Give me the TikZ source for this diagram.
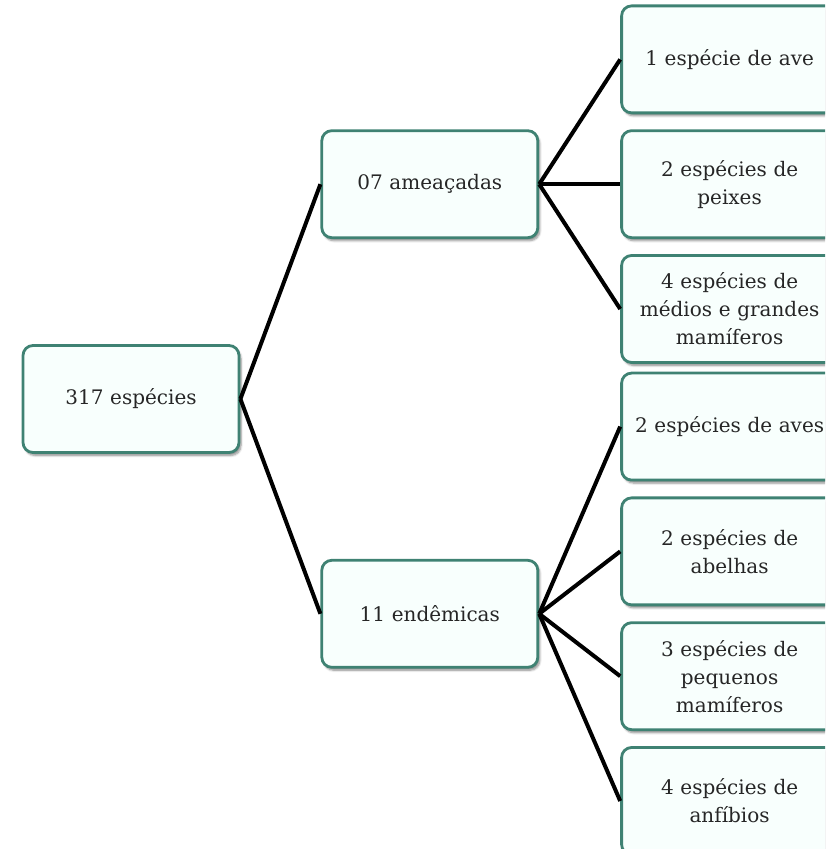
\documentclass[tikz,border=0pt]{standalone}
\usepackage{fontspec}
\setmainfont{DejaVu Serif}
\usetikzlibrary{positioning,shadows.blur}
\definecolor{borda}{HTML}{3F8273}
\definecolor{fundo}{HTML}{F8FFFD}
\tikzset{
  caixa/.style={
    draw=borda,
    line width=2.8pt,
    fill=fundo,
    rectangle,
    rounded corners=10pt,
    minimum height=107pt,
    minimum width=216pt,
    text width=196pt,
    align=center,
    text=black!85,
    font=\fontsize{20}{28}\selectfont,
    blur shadow={shadow xshift=2pt, shadow yshift=-3pt, shadow blur steps=6, shadow opacity=45}
  },
  ligacao/.style={
    line width=4pt,
    black
  }
}

\begin{document}
\begin{tikzpicture}[x=1pt,y=1pt]

\clip (0,0) rectangle (825,849);

% --- Raiz ---
\node[caixa] (raiz) at (131,450) {317 espécies};

% --- Nível intermediário ---
\node[caixa, above right=105pt and 80pt of raiz] (ameacadas) {07 ameaçadas};
\node[caixa, below right=105pt and 80pt of raiz] (endemicas) {11 endêmicas};

% --- Ameaçadas ---
\node[caixa, right=81pt of ameacadas] (a2) {2 espécies de\\peixes};
\node[caixa, above=15pt of a2] (a1) {1 espécie de ave};
\node[caixa, below=15pt of a2] (a3) {4 espécies de\\médios e grandes\\mamíferos};

% --- Endêmicas ---
\coordinate[right=81pt of endemicas] (emeio);
\node[caixa, above right=7.5pt and 0pt of emeio] (e2) {2 espécies de\\abelhas};
\node[caixa, above=15pt of e2] (e1) {2 espécies de aves};
\node[caixa, below right=7.5pt and 0pt of emeio] (e3) {3 espécies de\\pequenos\\mamíferos};
\node[caixa, below=15pt of e3] (e4) {4 espécies de\\anfíbios};

% --- Ligações ---
\draw[ligacao] (raiz.east) -- (ameacadas.west);
\draw[ligacao] (raiz.east) -- (endemicas.west);
\foreach \n in {a1,a2,a3}
  \draw[ligacao] (ameacadas.east) -- (\n.west);
\foreach \n in {e1,e2,e3,e4}
  \draw[ligacao] (endemicas.east) -- (\n.west);

\end{tikzpicture}
\end{document}
